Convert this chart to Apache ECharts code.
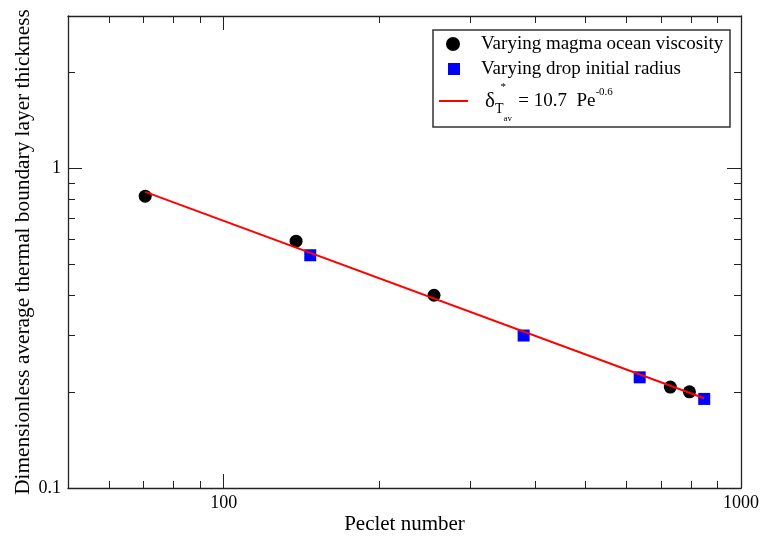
<!DOCTYPE html>
<html><head><meta charset="utf-8">
<script src="https://cdn.jsdelivr.net/npm/echarts@6/dist/echarts.min.js"></script>
<style>html,body{margin:0;padding:0;background:#fff}#c{width:777px;height:538px}</style>
</head><body><div id="c"></div>
<script>
// ---- data ----
const circlePe = [70.5, 138, 255, 730, 795];
const circleDelta = [0.819, 0.592, 0.401, 0.207, 0.200];
const squarePe = [147, 380, 637, 849];
const squareDelta = [0.535, 0.300, 0.222, 0.190];
const fitPe = [70.5, 849];
const fitDelta = [0.845, 0.191];
const xMajorTicks = [100, 1000];
const xMinorTicks = [60, 70, 80, 90, 200, 300, 400, 500, 600, 700, 800, 900];
const yMajorTicks = [0.1, 1];
const yMinorTicks = [0.2, 0.3, 0.4, 0.5, 0.6, 0.7, 0.8, 0.9, 2, 3];
const seriesNames = ['Varying magma ocean viscosity', 'Varying drop initial radius', 'fit'];
const xTitle = 'Peclet number';
const yTitle = 'Dimensionless average thermal boundary layer thickness';

const FONT = "'Liberation Serif','Times New Roman',serif";
const X_MIN = 50, X_MAX = 1000, Y_MIN = 0.1, Y_MAX = 3;

function mkX(pos, ticks, len, withLabels, showLine) {
  const a = {
    type: 'log', logBase: 10, min: X_MIN, max: X_MAX, position: pos, gridIndex: 0,
    axisLine: {show: showLine, onZero: false, lineStyle: {color: '#222', width: 1.3}},
    axisTick: {show: true, inside: true, length: len, customValues: ticks, lineStyle: {color: '#222', width: 1}},
    axisLabel: {show: withLabels, customValues: ticks, formatter: v => String(v),
      color: '#000', fontFamily: FONT, fontSize: 18, margin: 6},
    splitLine: {show: false}, minorTick: {show: false}
  };
  if (withLabels) {
    a.name = xTitle; a.nameLocation = 'middle'; a.nameGap = 26; a.nameMoveOverlap = false;
    a.nameTextStyle = {color: '#000', fontFamily: FONT, fontSize: 21};
  }
  return a;
}
function mkY(pos, ticks, len, withLabels, showLine) {
  const a = {
    type: 'log', logBase: 10, min: Y_MIN, max: Y_MAX, position: pos, gridIndex: 0,
    axisLine: {show: showLine, onZero: false, lineStyle: {color: '#222', width: 1.3}},
    axisTick: {show: true, inside: true, length: len, customValues: ticks, lineStyle: {color: '#222', width: 1}},
    axisLabel: {show: withLabels, customValues: ticks, formatter: v => String(v),
      color: '#000', fontFamily: FONT, fontSize: 18, margin: 7},
    splitLine: {show: false}, minorTick: {show: false}
  };
  if (withLabels) {
    a.name = yTitle; a.nameLocation = 'middle'; a.nameGap = 34; a.nameMoveOverlap = false;
    a.nameTextStyle = {color: '#000', fontFamily: FONT, fontSize: 21.3};
  }
  return a;
}

const legendText = {color: '#000', fontFamily: FONT, fontSize: 19, lineHeight: 20, padding: [0, 0, 0, 16]};

const option = {
  animation: false,
  backgroundColor: '#fff',
  grid: {left: 68, right: 36, top: 16, bottom: 50, containLabel: false, outerBoundsMode: 'none'},
  xAxis: [
    mkX('bottom', xMajorTicks, 14, true, true),
    mkX('bottom', xMinorTicks, 7, false, false),
    mkX('top', xMajorTicks, 14, false, true),
    mkX('top', xMinorTicks, 7, false, false)
  ],
  yAxis: [
    mkY('left', yMajorTicks, 14, true, true),
    mkY('left', yMinorTicks, 7, false, false),
    mkY('right', yMajorTicks, 14, false, true),
    mkY('right', yMinorTicks, 7, false, false)
  ],
  legend: [
    {data: [{name: seriesNames[0], icon: 'circle'}], left: 446, top: 34, padding: 0,
     itemWidth: 14, itemHeight: 14, textStyle: legendText, selectedMode: false},
    {data: [{name: seriesNames[1], icon: 'rect'}], left: 448, top: 59, padding: 0,
     itemWidth: 12, itemHeight: 12, textStyle: legendText, selectedMode: false},
    {data: [{name: seriesNames[2], icon: 'rect'}], left: 439, top: 79, padding: 0,
     itemWidth: 29, itemHeight: 2, selectedMode: false,
     formatter: () => '{d|δ}{st|  *}{T|T}{av|av}{t| = 10.7  Pe}{e|-0.6}',
     textStyle: {color: '#000', fontFamily: FONT, padding: [0, 0, 0, 12],
       rich: {
         d: {fontFamily: FONT, fontSize: 21, lineHeight: 44, verticalAlign: 'middle', color: '#000'},
         st: {fontFamily: FONT, fontSize: 11, lineHeight: 10, height: 17, width: 0, verticalAlign: 'top', color: '#000'},
         T: {fontFamily: FONT, fontSize: 14, lineHeight: 10, height: 28, verticalAlign: 'bottom', color: '#000'},
         av: {fontFamily: FONT, fontSize: 9, lineHeight: 10, width: 10, verticalAlign: 'bottom', color: '#000'},
         t: {fontFamily: FONT, fontSize: 19, lineHeight: 44, verticalAlign: 'middle', color: '#000'},
         e: {fontFamily: FONT, fontSize: 11, lineHeight: 10, height: 27, verticalAlign: 'top', color: '#000'}
       }}}
  ],
  graphic: [
    {type: 'rect', z: 1, shape: {x: 433, y: 30, width: 297, height: 97},
     style: {fill: 'none', stroke: '#333', lineWidth: 1.5}}
  ],
  series: [
    {name: seriesNames[0], type: 'scatter', xAxisIndex: 0, yAxisIndex: 0, z: 2,
     symbol: 'circle', symbolSize: 13, itemStyle: {color: '#000', opacity: 1},
     data: circlePe.map((x, i) => [x, circleDelta[i]])},
    {name: seriesNames[1], type: 'scatter', xAxisIndex: 0, yAxisIndex: 0, z: 2,
     symbol: 'rect', symbolSize: 12, itemStyle: {color: '#0000ff', opacity: 1},
     data: squarePe.map((x, i) => [x, squareDelta[i]])},
    {name: seriesNames[2], type: 'line', xAxisIndex: 0, yAxisIndex: 0, z: 3,
     symbol: 'none', showSymbol: false, lineStyle: {color: '#ff0000', width: 2}, itemStyle: {color: '#ff0000'},
     data: fitPe.map((x, i) => [x, fitDelta[i]])}
  ]
};
const chart = echarts.init(document.getElementById('c'), null, {renderer: 'canvas'});
chart.setOption(option);
</script>
</body></html>
